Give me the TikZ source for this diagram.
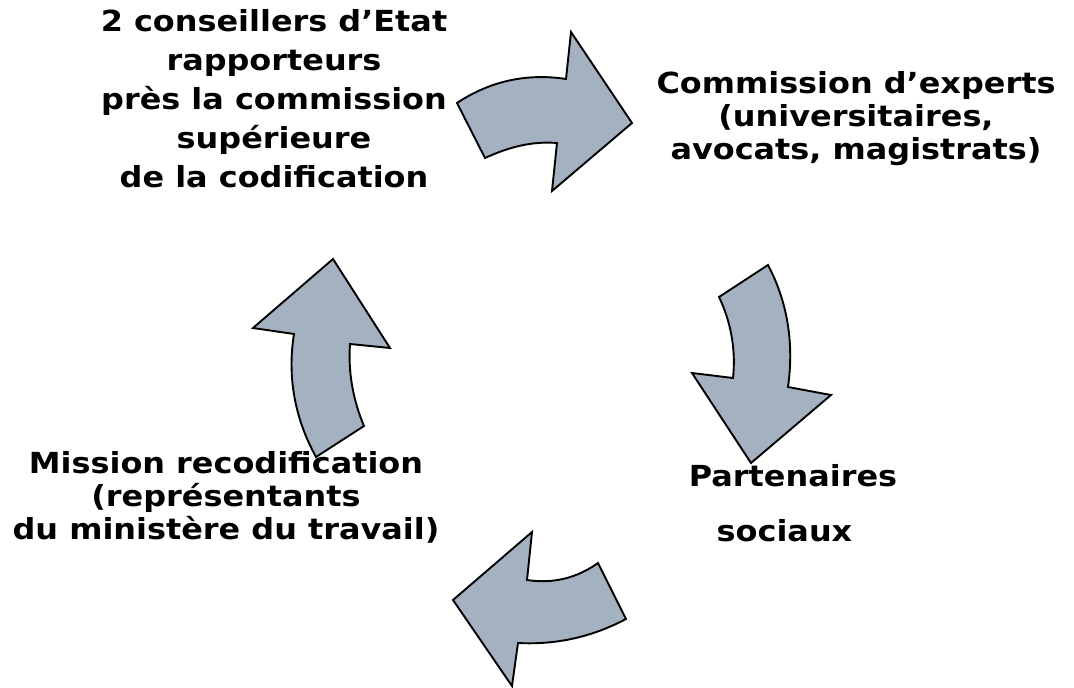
\documentclass[tikz,border=0pt]{standalone}
\usepackage{fontspec}
\setmainfont[FakeStretch=1.1]{DejaVu Sans}
\definecolor{arrowfill}{RGB}{163,177,192}
\begin{document}
\begin{tikzpicture}[
    x=1pt, y=-1pt,
    every node/.style={inner sep=0pt, font=\bfseries\fontsize{29}{33}\selectfont, align=center, anchor=base},
    cyclearrow/.style={draw=black, line width=1.9pt, fill=arrowfill, line join=miter}
]
\useasboundingbox (0,0) rectangle (1074,688);
\draw[cyclearrow] (457,103) .. controls (490,81) and (527,73) .. (566,79) -- (571,32) -- (632,123)
    -- (552,191) -- (557,143) .. controls (532,141) and (509,147) .. (485,158) -- cycle;
\draw[cyclearrow] (768,265) -- (719,297) .. controls (731,322) and (736,350) .. (733,378) -- (692,373)
    -- (751,463) -- (831,395) -- (788,387) .. controls (794,344) and (788,303) .. (768,265) -- cycle;
\draw[cyclearrow] (598,563) -- (626,619) .. controls (592,637) and (556,645) .. (518,643) -- (512,686)
    -- (453,600) -- (532,532) -- (527,580) .. controls (553,584) and (577,578) .. (598,563) -- cycle;
\draw[cyclearrow] (316,457) -- (364,426) .. controls (353,400) and (348,372) .. (350,344) -- (390,348)
    -- (333,259) -- (253,328) -- (294,334) .. controls (287,377) and (295,419) .. (316,457) -- cycle;
\node[font=\bfseries\fontsize{29}{38.9}\selectfont] (conseillers) at (274,187.3)
    {2 conseillers d’Etat\\rapporteurs\\près la commission\\supérieure\\de la codification};
\node (experts) at (856,159.3) {Commission d’experts\\(universitaires,\hspace*{32pt}\\avocats, magistrats)};
\node (partenaires) at (793,541.7) {Partenaires\\[22pt]sociaux\hspace*{17pt}};
\node (mission) at (226,539) {Mission recodification\\(représentants\\du ministère du travail)};
\end{tikzpicture}
\end{document}
